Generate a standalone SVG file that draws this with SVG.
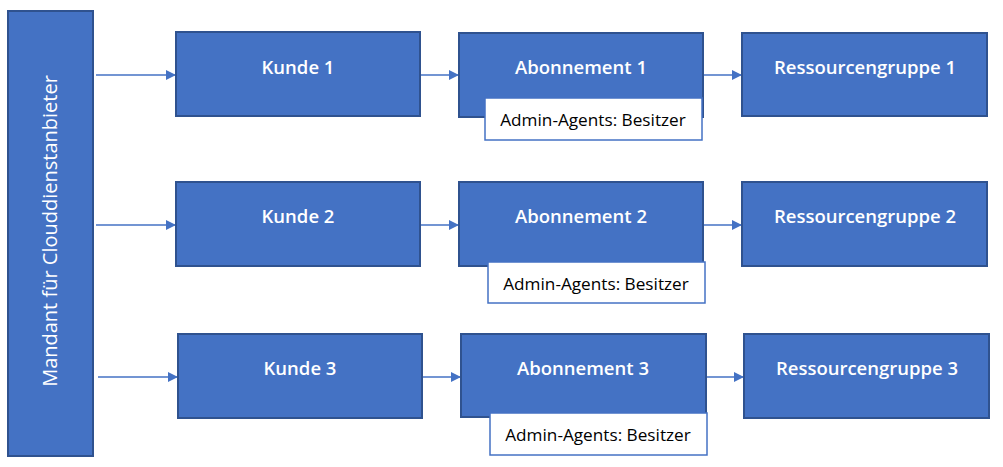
<svg xmlns="http://www.w3.org/2000/svg" width="1003" height="467" viewBox="0 0 1003 467">
<style>
.box{fill:#4472C4;stroke:#2F528F;stroke-width:2}
.lbl{fill:#FFFFFF;stroke:#4472C4;stroke-width:1.5}
.t{font-family:"Open Sans","Noto Sans",sans-serif;font-size:18.5px;font-weight:600;fill:#FFFFFF;text-anchor:middle}
.v{font-family:"Open Sans","Noto Sans",sans-serif;font-size:20px;fill:#FFFFFF;text-anchor:middle}
.a{font-family:"Open Sans","Noto Sans",sans-serif;font-size:17.2px;fill:#000000;text-anchor:middle}
.c{stroke:#4472C4;stroke-width:1.3;fill:none;marker-end:url(#ah)}
</style>
<defs>
<marker id="ah" markerWidth="10" markerHeight="10" refX="10" refY="5" orient="auto" markerUnits="userSpaceOnUse">
<path d="M0,0 L10,5 L0,10 Z" fill="#4472C4"/>
</marker>
</defs>
<rect width="1003" height="467" fill="#FFFFFF"/>
<g id="tenant">
<rect class="box" x="8" y="11" width="85" height="445"/>
<text class="v" transform="translate(57,231) rotate(-90)">Mandant für Clouddienstanbieter</text>
</g>
<g id="connectors">
<line class="c" x1="96" y1="75" x2="176" y2="75"/>
<line class="c" x1="420" y1="75" x2="459" y2="75"/>
<line class="c" x1="703" y1="75" x2="742" y2="75"/>
<line class="c" x1="96" y1="225" x2="176" y2="225"/>
<line class="c" x1="420" y1="225" x2="459" y2="225"/>
<line class="c" x1="703" y1="225" x2="742" y2="225"/>
<line class="c" x1="98" y1="377" x2="178" y2="377"/>
<line class="c" x1="422" y1="377" x2="461" y2="377"/>
<line class="c" x1="706" y1="377" x2="744" y2="377"/>
</g>
<g id="kunde1"><rect class="box" x="176" y="32" width="244" height="84"/><text class="t" x="298" y="74">Kunde 1</text></g>
<g id="abo1"><rect class="box" x="459" y="33" width="244" height="84"/><text class="t" x="581" y="74">Abonnement 1</text></g>
<g id="label1"><rect class="lbl" x="485" y="98" width="217" height="42"/><text class="a" x="593" y="126">Admin-Agents: Besitzer</text></g>
<g id="rg1"><rect class="box" x="742" y="33" width="245" height="83"/><text class="t" x="865" y="74">Ressourcengruppe 1</text></g>
<g id="kunde2"><rect class="box" x="176" y="182" width="244" height="84"/><text class="t" x="298" y="223">Kunde 2</text></g>
<g id="abo2"><rect class="box" x="459" y="182" width="244" height="84"/><text class="t" x="581" y="223">Abonnement 2</text></g>
<g id="label2"><rect class="lbl" x="488" y="262" width="217" height="41"/><text class="a" x="596" y="290">Admin-Agents: Besitzer</text></g>
<g id="rg2"><rect class="box" x="742" y="182" width="245" height="84"/><text class="t" x="865" y="223">Ressourcengruppe 2</text></g>
<g id="kunde3"><rect class="box" x="178" y="334" width="244" height="84"/><text class="t" x="300" y="375">Kunde 3</text></g>
<g id="abo3"><rect class="box" x="461" y="334" width="245" height="83"/><text class="t" x="583" y="375">Abonnement 3</text></g>
<g id="label3"><rect class="lbl" x="490" y="413" width="217" height="42"/><text class="a" x="598" y="441">Admin-Agents: Besitzer</text></g>
<g id="rg3"><rect class="box" x="744" y="334" width="245" height="84"/><text class="t" x="867" y="375">Ressourcengruppe 3</text></g>
</svg>
